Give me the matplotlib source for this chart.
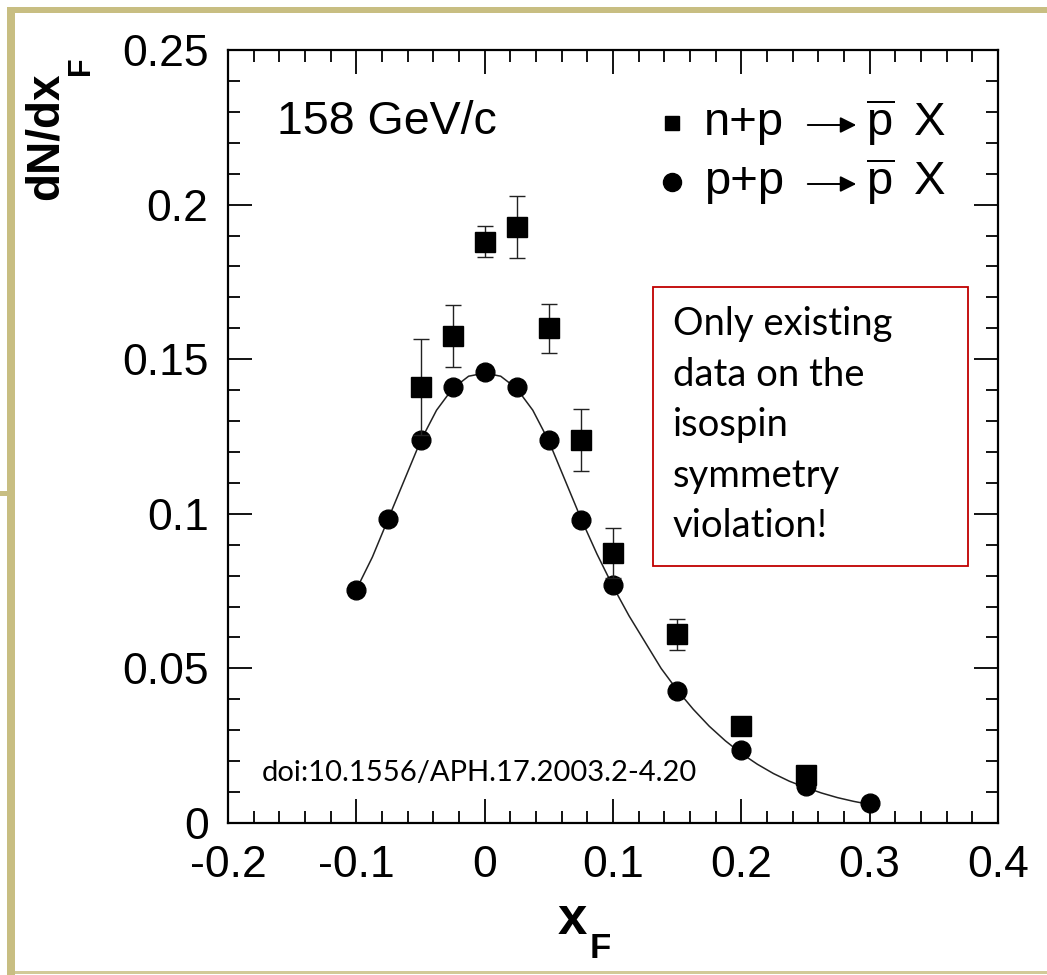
import matplotlib
matplotlib.use("Agg")
import matplotlib.pyplot as plt
from matplotlib.patches import Rectangle, FancyArrowPatch
from matplotlib.lines import Line2D
from matplotlib.ticker import MultipleLocator

plt.rcParams['font.family'] = ['Liberation Sans', 'DejaVu Sans']
plt.rcParams['mathtext.fontset'] = 'custom'
plt.rcParams['mathtext.rm'] = 'Liberation Sans'
plt.rcParams['mathtext.it'] = 'Liberation Sans'
plt.rcParams['mathtext.bf'] = 'Liberation Sans:bold'

# ---------------- data ----------------
pp_x = [-0.1, -0.075, -0.05, -0.025, 0.0, 0.025, 0.05, 0.075, 0.1, 0.15, 0.2, 0.25, 0.3]
pp_y = [0.0755, 0.0983, 0.124, 0.141, 0.146, 0.141, 0.124, 0.098, 0.077, 0.0427, 0.0236, 0.012, 0.0065]

np_x = [-0.05, -0.025, 0.0, 0.025, 0.05, 0.075, 0.1, 0.15, 0.2, 0.25]
np_y = [0.141, 0.1575, 0.188, 0.1927, 0.160, 0.124, 0.0873, 0.061, 0.0314, 0.0155]
np_err = [0.0155, 0.010, 0.005, 0.010, 0.008, 0.010, 0.008, 0.005, 0.0015, 0.0015]

fit_x = [-0.1, -0.0875, -0.075, -0.0625, -0.05, -0.0375, -0.025, -0.0125, 0.0,
         0.0125, 0.025, 0.0375, 0.05, 0.0625, 0.075, 0.0875, 0.1, 0.1125, 0.125,
         0.1375, 0.15, 0.1625, 0.175, 0.1875, 0.2, 0.2125, 0.225, 0.2375, 0.25,
         0.2625, 0.275, 0.2875, 0.3]
fit_y = [0.0755, 0.086, 0.0985, 0.111, 0.1235, 0.1335, 0.1405, 0.1445, 0.1455,
         0.1445, 0.1405, 0.1335, 0.1235, 0.111, 0.0985, 0.087, 0.0765, 0.067, 0.0585,
         0.050, 0.0430, 0.0368, 0.0313, 0.0266, 0.0225, 0.0190, 0.0160, 0.0135, 0.0115,
         0.0097, 0.0082, 0.0070, 0.0060]

x_ticks = [-0.2, -0.1, 0.0, 0.1, 0.2, 0.3, 0.4]
x_tick_labels = ['-0.2', '-0.1', '0', '0.1', '0.2', '0.3', '0.4']
y_ticks = [0.0, 0.05, 0.1, 0.15, 0.2, 0.25]
y_tick_labels = ['0', '0.05', '0.1', '0.15', '0.2', '0.25']

legend_reactions = ['n+p', 'p+p']
legend_pbar = r'$\overline{\mathrm{p}}$'
legend_x = 'X'
energy_label = '158 GeV/c'
note_text = 'Only existing\ndata on the\nisospin\nsymmetry\nviolation!'
doi_text = 'doi:10.1556/APH.17.2003.2-4.20'

# ---------------- figure ----------------
W, H = 1047, 975
fig = plt.figure(figsize=(W / 100, H / 100), dpi=100)
fig.patch.set_facecolor('white')

def fx(px):
    return px / W

def fy(py):
    return 1 - py / H

def px_rect(x0, y0, x1, y1, color):
    fig.patches.append(Rectangle((fx(x0), fy(y1)), (x1 - x0) / W, (y1 - y0) / H,
                                 transform=fig.transFigure, facecolor=color,
                                 edgecolor='none', zorder=0))

tan = '#C8BE82'
px_rect(7, 7, 15, 975, tan)       # left bar
px_rect(7, 7, 1047, 13, tan)      # top bar
px_rect(15, 971, 1047, 974, '#D2CA98')  # bottom line
px_rect(0, 491, 15, 496, tan)     # short tick at left

ax = fig.add_axes([fx(228), fy(823), (998 - 228) / W, (823 - 50) / H])
ax.set_xlim(-0.2, 0.4)
ax.set_ylim(0.0, 0.25)

ax.plot(fit_x, fit_y, color='#222222', lw=1.1, zorder=2)
ax.plot(pp_x, pp_y, 'o', color='black', ms=13.5, zorder=3)
ax.errorbar(np_x, np_y, yerr=np_err, fmt='s', color='black', ms=14,
            ecolor='#222222', elinewidth=1.0, capsize=5.5, capthick=1.0, zorder=4)

ax.set_xticks(x_ticks)
ax.set_xticklabels(x_tick_labels)
ax.set_yticks(y_ticks)
ax.set_yticklabels(y_tick_labels)
ax.xaxis.set_minor_locator(MultipleLocator(0.02))
ax.yaxis.set_minor_locator(MultipleLocator(0.01))
ax.tick_params(which='both', direction='in', top=True, right=True, width=1.3, color='black')
ax.tick_params(which='major', length=17, labelsize=32)
ax.tick_params(axis='x', which='major', pad=16)
ax.tick_params(axis='y', which='major', pad=14)
ax.tick_params(which='minor', length=8.5)
for s in ax.spines.values():
    s.set_linewidth(1.6)

# axis labels
fig.text(fx(587), fy(920), 'x', fontsize=38, fontweight='bold', ha='right', va='center')
fig.text(fx(590), fy(948), 'F', fontsize=25, fontweight='bold', ha='left', va='center')
fig.text(fx(46), fy(200), 'dN/dx', fontsize=33, fontweight='bold', rotation=90,
         ha='center', va='bottom')
fig.text(fx(81), fy(75), 'F', fontsize=22, fontweight='bold', rotation=90,
         ha='center', va='bottom')

# energy label
fig.text(fx(277), fy(122), energy_label, fontsize=33.5, ha='left', va='center')

# legend (manual)
legend_markers = ['s', 'o']
legend_ms = [10.5, 13]
legend_rows = [123, 182]
for lab, mk, ms, yy in zip(legend_reactions, legend_markers, legend_ms, legend_rows):
    fig.lines.append(Line2D([fx(672)], [fy(yy)], marker=mk, ms=ms, color='black',
                            transform=fig.transFigure, linestyle='none'))
    fig.text(fx(704), fy(yy), lab, fontsize=34, ha='left', va='center')
    fig.patches.append(FancyArrowPatch(
        (fx(805), fy(yy + 2)), (fx(859), fy(yy + 2)), transform=fig.transFigure,
        arrowstyle='-|>', mutation_scale=24, lw=1.4, color='black'))
    fig.text(fx(866), fy(yy), legend_pbar, fontsize=34, ha='left', va='center')
    fig.text(fx(914), fy(yy), legend_x, fontsize=34, ha='left', va='center')

# red note box
fig.patches.append(Rectangle((fx(653), fy(566)), (968 - 653) / W, (566 - 287) / H,
                             transform=fig.transFigure, facecolor='white',
                             edgecolor='#C00000', lw=1.3, zorder=5))
fig.text(fx(673), fy(306), note_text, fontsize=27.5, family=['Lato', 'DejaVu Sans'],
         ha='left', va='top', linespacing=1.5, zorder=6)

# doi
fig.text(fx(262), fy(773), doi_text, fontsize=21, family=['Lato', 'DejaVu Sans'],
         ha='left', va='center')

fig.savefig('out.png', dpi=100)
